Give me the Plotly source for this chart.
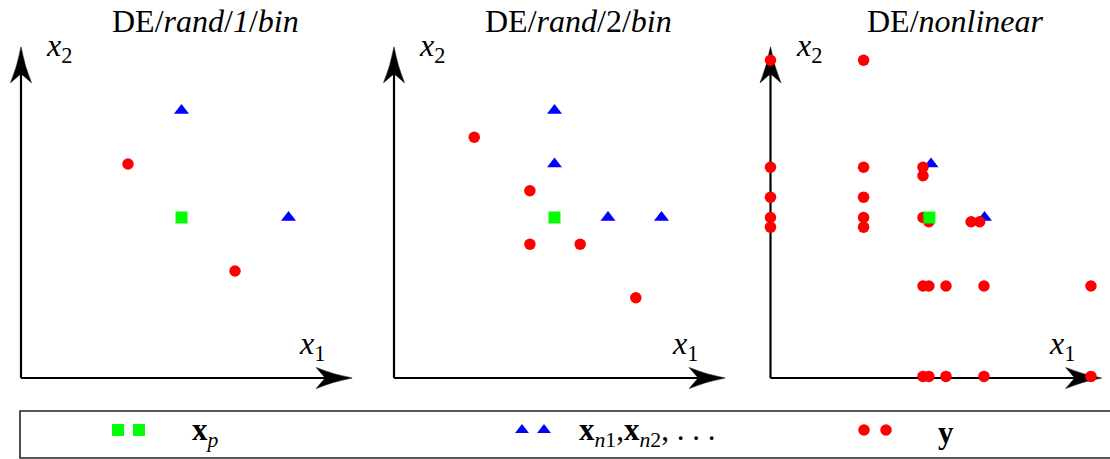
import plotly.graph_objects as go

# ---------------- data (axis units) ----------------
titles = ["DE/<i>rand</i>/<i>1</i>/<i>bin</i>",
          "DE/<i>rand</i>/2/<i>bin</i>",
          "DE/<i>nonlinear</i>"]

# panel 1: DE/rand/1/bin
p1_xp_x = [3.0]
p1_xp_y = [3.0]
p1_xn_x = [3.0, 5.0]
p1_xn_y = [5.0, 3.0]
p1_y_x = [2.0, 4.0]
p1_y_y = [4.0, 2.0]

# panel 2: DE/rand/2/bin
p2_xp_x = [3.0]
p2_xp_y = [3.0]
p2_xn_x = [3.0, 3.0, 4.0, 5.0]
p2_xn_y = [5.0, 4.0, 3.0, 3.0]
p2_y_x = [1.5, 2.54, 2.54, 3.48, 4.52]
p2_y_y = [4.5, 3.5, 2.5, 2.5, 1.5]

# panel 3: DE/nonlinear
p3_xp_x = [2.97]
p3_xp_y = [3.0]
p3_xn_x = [3.0, 4.0]
p3_xn_y = [4.0, 3.0]
p3_y_x = [0.0, 0.0, 0.0, 0.0, 0.0,
          1.74, 1.74, 1.74, 1.74, 1.74,
          2.85, 2.85, 2.85, 2.85, 2.85,
          2.96, 2.96, 2.96,
          3.28, 3.28,
          3.75, 3.91,
          3.99, 3.99,
          5.99, 5.99]
p3_y_y = [5.94, 3.94, 3.38, 3.0, 2.82,
          5.94, 3.94, 3.38, 3.0, 2.82,
          3.94, 3.78, 3.0, 1.72, 0.03,
          2.92, 1.72, 0.03,
          1.72, 0.03,
          2.92, 2.92,
          1.72, 0.03,
          1.72, 0.03]

legend_labels = ["<b>x</b><sub><i>p</i></sub>",
                 "<b>x</b><sub><i>n</i>1</sub>,<b>x</b><sub><i>n</i>2</sub>, . . .",
                 "<b>y</b>"]

panels = [
    (titles[0], p1_xp_x, p1_xp_y, p1_xn_x, p1_xn_y, p1_y_x, p1_y_y),
    (titles[1], p2_xp_x, p2_xp_y, p2_xn_x, p2_xn_y, p2_y_x, p2_y_y),
    (titles[2], p3_xp_x, p3_xp_y, p3_xn_x, p3_xn_y, p3_y_x, p3_y_y),
]

# ---------------- layout constants ----------------
W, H = 1110, 459
PX = 53.5                      # pixels per axis unit
ORIGIN_X_PX = [21.0, 394.0, 770.5]
ORIGIN_Y_PX = 378.0
PANEL_PX = [(0, 370), (370, 740), (740, 1110)]
PANEL_BOTTOM_PX = 400
AXIS_LEN = 6.19                # arrow tip, axis units
HEAD_LEN = 36 / PX
HEAD_HW = 10.5 / PX
HEAD_NOTCH = 9 / PX

GREEN, BLUE, RED = "#00ff00", "#0000ff", "#ff0000"
FONT = "Liberation Serif, Times New Roman, Times, DejaVu Serif, serif"

fig = go.Figure()
shapes = []
annotations = []

for i, (title, xpx, xpy, xnx, xny, yx, yy) in enumerate(panels):
    n = i + 1
    xa = "x" if n == 1 else f"x{n}"
    ya = "y" if n == 1 else f"y{n}"
    d0, d1 = PANEL_PX[i]
    ox = ORIGIN_X_PX[i]
    fig.update_layout(**{
        ("xaxis" if n == 1 else f"xaxis{n}"): dict(
            domain=[d0 / W, d1 / W],
            range=[(d0 - ox) / PX, (d1 - ox) / PX],
            visible=False, fixedrange=True),
        ("yaxis" if n == 1 else f"yaxis{n}"): dict(
            domain=[(H - PANEL_BOTTOM_PX) / H, 1],
            range=[(ORIGIN_Y_PX - PANEL_BOTTOM_PX) / PX, ORIGIN_Y_PX / PX],
            visible=False, fixedrange=True),
    })
    fig.add_trace(go.Scatter(x=xnx, y=xny, xaxis=xa, yaxis=ya, mode="markers",
                             marker=dict(symbol="triangle-up", size=13, color=BLUE),
                             showlegend=False, cliponaxis=False))
    fig.add_trace(go.Scatter(x=yx, y=yy, xaxis=xa, yaxis=ya, mode="markers",
                             marker=dict(symbol="circle", size=11.5, color=RED),
                             showlegend=False, cliponaxis=False))
    fig.add_trace(go.Scatter(x=xpx, y=xpy, xaxis=xa, yaxis=ya, mode="markers",
                             marker=dict(symbol="square", size=12, color=GREEN),
                             showlegend=False, cliponaxis=False))

    # axis lines
    line = dict(color="black", width=2.2)
    shapes.append(dict(type="line", xref=xa, yref=ya, x0=0, y0=0,
                       x1=AXIS_LEN - HEAD_LEN + HEAD_NOTCH, y1=0, line=line, layer="below"))
    shapes.append(dict(type="line", xref=xa, yref=ya, x0=0, y0=0, x1=0,
                       y1=AXIS_LEN - HEAD_LEN + HEAD_NOTCH, line=line, layer="below"))
    # arrow heads
    L, hl, hw, nd = AXIS_LEN, HEAD_LEN, HEAD_HW, HEAD_NOTCH
    px_path = (f"M{L},0 Q{L - hl * 0.55},{hw * 0.35} {L - hl},{hw} "
               f"L{L - hl + nd},0 L{L - hl},{-hw} Q{L - hl * 0.55},{-hw * 0.35} {L},0 Z")
    py_path = (f"M0,{L} Q{hw * 0.35},{L - hl * 0.55} {hw},{L - hl} "
               f"L0,{L - hl + nd} L{-hw},{L - hl} Q{-hw * 0.35},{L - hl * 0.55} 0,{L} Z")
    for p in (px_path, py_path):
        shapes.append(dict(type="path", xref=xa, yref=ya, path=p,
                           fillcolor="black", line=dict(color="black", width=0.5),
                           layer="below"))

    # title and axis labels
    annotations.append(dict(xref=xa, yref=ya, x=184.5 / PX, y=(ORIGIN_Y_PX - 21) / PX,
                            text=title, showarrow=False, xanchor="center", yanchor="middle",
                            font=dict(family=FONT, size=32, color="black")))
    annotations.append(dict(xref=xa, yref=ya, x=23 / PX, y=(ORIGIN_Y_PX - 47) / PX,
                            text="<i>x</i><sub>2</sub>", showarrow=False,
                            xanchor="left", yanchor="middle",
                            font=dict(family=FONT, size=32, color="black")))
    annotations.append(dict(xref=xa, yref=ya, x=276 / PX, y=(ORIGIN_Y_PX - 345) / PX,
                            text="<i>x</i><sub>1</sub>", showarrow=False,
                            xanchor="left", yanchor="middle",
                            font=dict(family=FONT, size=32, color="black")))

# ---------------- legend strip ----------------
fig.update_layout(
    xaxis4=dict(domain=[0, 1], range=[0, W], visible=False, fixedrange=True),
    yaxis4=dict(domain=[0, (H - PANEL_BOTTOM_PX) / H], range=[H, PANEL_BOTTOM_PX],
                visible=False, fixedrange=True),
)
LEG_Y = 430
LEG_SWATCH_X = [(118, 139), (522, 544), (864, 886)]
LEG_TEXT_X = [190, 577, 936]
LEG_SYMBOLS = [("square", 12, GREEN), ("triangle-up", 12, BLUE), ("circle", 11.5, RED)]
for (sx, (sym, sz, col), tx, lab) in zip(LEG_SWATCH_X, LEG_SYMBOLS, LEG_TEXT_X, legend_labels):
    fig.add_trace(go.Scatter(x=list(sx), y=[LEG_Y, LEG_Y], xaxis="x4", yaxis="y4",
                             mode="markers", marker=dict(symbol=sym, size=sz, color=col),
                             showlegend=False, cliponaxis=False))
    annotations.append(dict(xref="x4", yref="y4", x=tx, y=LEG_Y + 2, text=lab,
                            showarrow=False, xanchor="left", yanchor="middle",
                            font=dict(family=FONT, size=31, color="black")))
shapes.append(dict(type="rect", xref="x4", yref="y4", x0=20, x1=W + 20, y0=411, y1=458,
                   line=dict(color="#222222", width=1.6), fillcolor="rgba(0,0,0,0)"))

fig.update_layout(width=W, height=H, margin=dict(l=0, r=0, t=0, b=0),
                  paper_bgcolor="white", plot_bgcolor="white",
                  font=dict(family=FONT),
                  shapes=shapes, annotations=annotations, showlegend=False)

fig.write_html("out.html")
